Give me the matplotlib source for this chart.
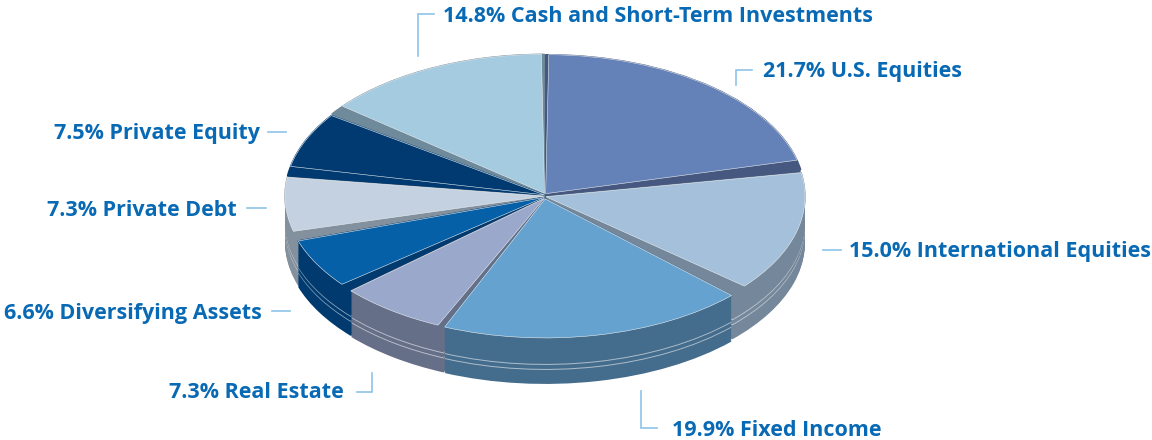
import numpy as np
import matplotlib
matplotlib.use("Agg")
import matplotlib.pyplot as plt
from matplotlib.colors import to_rgb

labels = ["21.7% U.S. Equities", "15.0% International Equities", "19.9% Fixed Income",
          "7.3% Real Estate", "6.6% Diversifying Assets", "7.3% Private Debt",
          "7.5% Private Equity", "14.8% Cash and Short-Term Investments"]
values = [21.7, 15.0, 19.9, 7.3, 6.6, 7.3, 7.5, 14.8]
top_colors = ["#6482b8", "#a4c0da", "#65a2cf", "#9aa8cb", "#0560a8", "#c3d1e0", "#003a70", "#a5cbe0"]
side_colors = ["#46587f", "#75889b", "#446c8c", "#666f88", "#003a6e", "#83909e", "#003a70", "#6f8a9a"]

# pie geometry in pixels
cx, cy = 545, 196
rx, ry = 259, 139
depth = 46
gap_x, gap_y = 1, 3
rim_lines = (27, 32)

# which slice shows its wall in the gap after slice j (clockwise), half gap in degrees
wall_owner = [0, 1, 3, 4, 5, 6, 7]
half_gaps = [2.0, 2.0, 0.7, 1.5, 1.8, 2.0, 2.0]

fig = plt.figure(figsize=(11.52, 4.4), dpi=100)
ax = fig.add_axes([0, 0, 1, 1])
shares = np.array(values) / sum(values)

# slices at the back get painted first
mids = np.radians(90 - (np.cumsum(shares) - shares / 2) * 360)
rank = np.argsort(np.argsort(-np.sin(mids)))
off_x = np.cos(mids) * gap_x / rx
off_y = np.sin(mids) * gap_y / ry

# lighter version of each side colour for the thin lines on the rim
line_colors = [tuple(0.45 * np.array(to_rgb(c)) + 0.55) for c in side_colors]


def trim(wedges, is_wall):
    # narrow the faces, widen the wall of the slice that owns the gap
    for j, owner in enumerate(wall_owner):
        a, b = wedges[j], wedges[j + 1]
        h = half_gaps[j]
        if owner == j:
            a.set_theta1(a.theta1 + (-h if is_wall else h))
            b.set_theta2(b.theta2 - h)
        else:
            b.set_theta2(b.theta2 + (h if is_wall else -h))
            a.set_theta1(a.theta1 + h)
    if not is_wall:
        # thin strip between cash and U.S. equities at the back
        wedges[0].set_theta2(wedges[0].theta2 - 0.7)
        wedges[-1].set_theta1(wedges[-1].theta1 + 0.7)


# side wall: stack of shifted pies
for k in range(depth, -1, -1):
    cols = line_colors if k in rim_lines else side_colors
    wedges, _ = ax.pie(values, colors=cols, startangle=90, counterclock=False)
    trim(wedges, True)
    for i, w in enumerate(wedges):
        w.set_center((off_x[i], off_y[i] - k / ry))
        w.set_zorder(rank[i] + 1 + (depth - k) * 0.01)
        if k == 0:
            w.set_edgecolor(side_colors[i])
            w.set_linewidth(1.0)
        else:
            w.set_linewidth(0)

wedges, _ = ax.pie(values, colors=top_colors, startangle=90, counterclock=False)
trim(wedges, False)
for i, w in enumerate(wedges):
    w.set_center((off_x[i], off_y[i]))
    w.set_zorder(rank[i] + 1.9)
    w.set_edgecolor("#e8eef3")
    w.set_linewidth(0.4)

ax.set_aspect("auto")
ax.set_xlim(-cx / rx, (1152 - cx) / rx)
ax.set_ylim((cy - 440) / ry, cy / ry)
ax.axis("off")

# labels and leader lines, pixel coordinates
ov = fig.add_axes([0, 0, 1, 1])
ov.set_xlim(0, 1152)
ov.set_ylim(440, 0)
ov.axis("off")
ov.patch.set_alpha(0)

text_pos = [(763, 72, "left"), (849, 251, "left"), (672, 430, "left"), (344, 392, "right"),
            (262, 313, "right"), (237, 210, "right"), (260, 134, "right"), (443, 16, "left")]
leaders = [([736, 736, 752], [85, 70, 70]), ([823, 841], [250, 250]), ([641, 641, 657], [391, 428, 428]),
           ([372, 372, 357], [373, 392, 392]), ([272, 290], [311, 311]), ([247, 266], [208, 208]),
           ([268, 286], [132, 132]), ([418, 418, 434], [56, 14, 14])]

for lab, (x, y, ha), (lx, ly) in zip(labels, text_pos, leaders):
    ov.text(x, y, lab, ha=ha, va="center", fontsize=15.5, fontweight="bold",
            family="Open Sans", color="#0869b4")
    ov.plot(lx, ly, color="#8cc3e8", lw=1.2, solid_joinstyle="miter")

fig.savefig("out.png", dpi=100)
